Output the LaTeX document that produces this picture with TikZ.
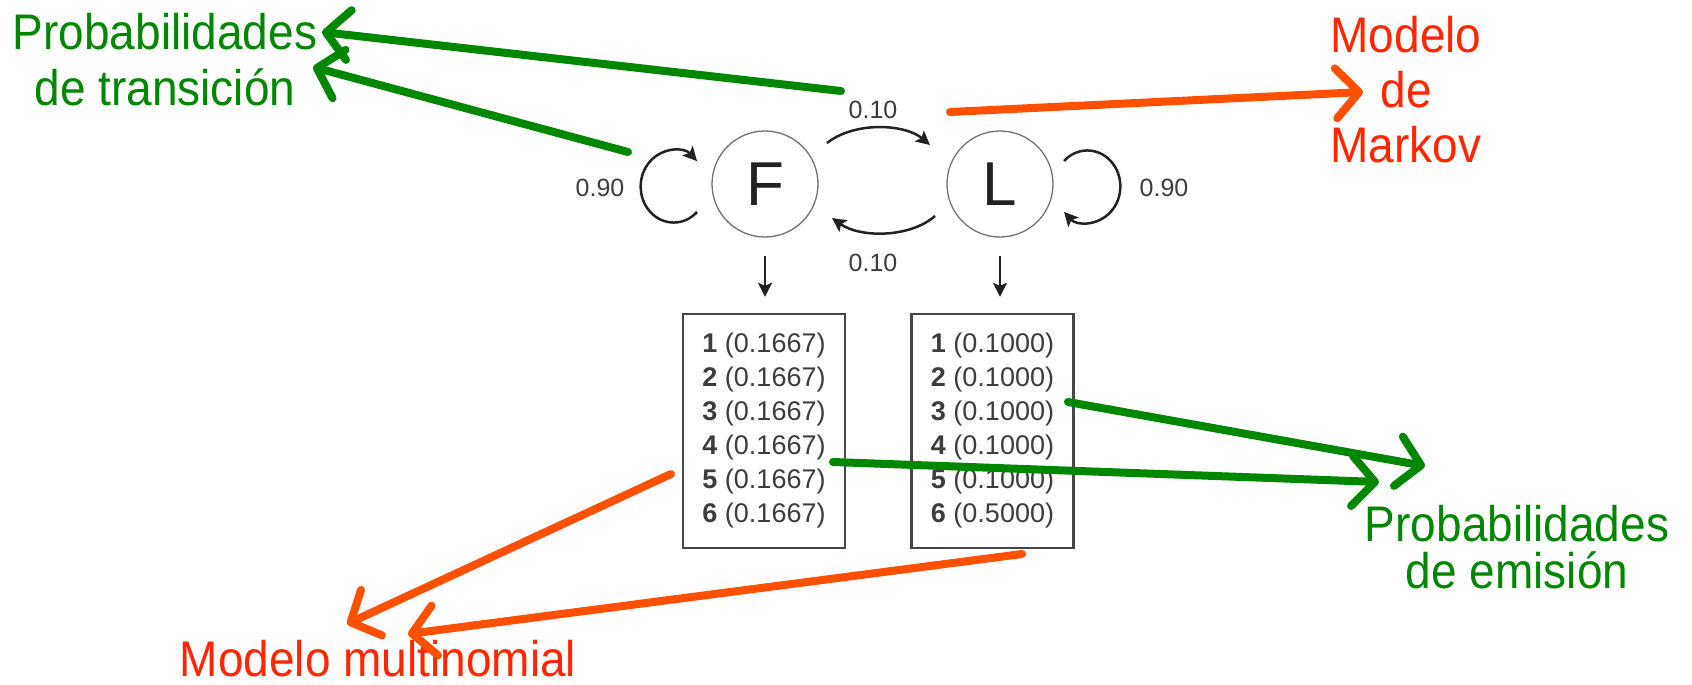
\documentclass[tikz,border=0pt]{standalone}
\usepackage{fontspec}
\setmainfont{Liberation Sans}
\newfontfamily\notefont[FakeStretch=0.92]{Liberation Sans}
\usetikzlibrary{arrows.meta,calc}

\definecolor{noteGreen}{RGB}{0,135,0}
\definecolor{noteOrange}{RGB}{255,80,0}
\definecolor{noteRed}{RGB}{255,38,0}
\definecolor{ink}{RGB}{34,34,34}
\definecolor{numInk}{RGB}{60,60,60}

\begin{document}
\begin{tikzpicture}[x=1pt,y=1pt,
  state/.style={circle, draw=black!55, line width=1.3pt, minimum size=106pt, inner sep=0pt,
                font=\fontsize{62}{62}\selectfont, text=ink},
  emitbox/.style={draw=black!72, line width=2.4pt, minimum width=162pt, minimum height=234pt,
                  inner sep=0pt, align=left, font=\fontsize{27}{34}\selectfont, text=numInk},
  prob/.style={font=\fontsize{25}{25}\selectfont, text=numInk},
  trans/.style={draw=ink, line width=2.5pt, -{Stealth[length=14pt,width=14pt,inset=3pt]}},
  callout/.style={line width=8pt, line cap=round, -{Straight Barb[length=23pt,width=50pt,round]}},
  note/.style={align=center}
]
\useasboundingbox (0,0) rectangle (1692,-685);
\fill[white] (0,0) rectangle (1692,-685);

% hidden states
\node[state] (F) at (765,-184) {F};
\node[state] (L) at (1000,-184) {L};

% emission tables
\node[emitbox] (EF) at (764,-431) {%
  \textbf{1} (0.1667)\\ \textbf{2} (0.1667)\\ \textbf{3} (0.1667)\\
  \textbf{4} (0.1667)\\ \textbf{5} (0.1667)\\ \textbf{6} (0.1667)};
\node[emitbox] (EL) at (992.5,-431) {%
  \textbf{1} (0.1000)\\ \textbf{2} (0.1000)\\ \textbf{3} (0.1000)\\
  \textbf{4} (0.1000)\\ \textbf{5} (0.1000)\\ \textbf{6} (0.5000)};

\draw[trans, shorten <=18pt, shorten >=16pt] (F.south) -- (F.south |- EF.north);
\draw[trans, shorten <=18pt, shorten >=16pt] (L.south) -- (L.south |- EL.north);

% self transitions
\coordinate (FloopS) at ($(F)+(-68,-28)$);
\coordinate (LloopS) at ($(L)+(64,23)$);
\draw[trans] (FloopS) arc[start angle=-45, end angle=-315, x radius=33, y radius=36];
\draw[trans] (LloopS) arc[start angle=135, end angle=-135, x radius=33, y radius=36];

% transitions between states
\coordinate (FLs) at ($(F)+(62,41)$);
\coordinate (FLe) at ($(L)+(-70,39)$);
\coordinate (LFs) at ($(L)+(-65,-32)$);
\coordinate (LFe) at ($(F)+(67,-34)$);
\draw[trans] (FLs) .. controls ($(FLs)+(28,22)$) and ($(FLe)+(-25,21)$) .. (FLe);
\draw[trans] (LFs) .. controls ($(LFs)+(-25,-22)$) and ($(LFe)+(28,-20)$) .. (LFe);

% transition probabilities
\node[prob] (pFF) at (600,-188) {0.90};
\node[prob] (pLL) at (1164,-188) {0.90};
\node[prob] (pFL) at (873,-110) {0.10};
\node[prob] (pLF) at (873,-263) {0.10};

% annotations
\node[note, text=noteGreen, font=\notefont\fontsize{50}{56}\selectfont] (transLbl) at (165,-60)
  {Probabilidades\\de transición};
\node[note, text=noteRed, font=\notefont\fontsize{50}{55}\selectfont] (markovLbl) at (1406,-90)
  {Modelo\\de\\Markov};
\node[note, text=noteGreen, font=\notefont\fontsize{50}{47}\selectfont] (emitLbl) at (1517,-547)
  {Probabilidades\\de emisión};
\node[note, text=noteRed, font=\notefont\fontsize{50}{56}\selectfont] (multiLbl) at (378,-659)
  {Modelo multinomial};

% callout arrow end points
\coordinate (ctA) at (841,-91);   \coordinate (ctAtip) at (322,-32);
\coordinate (ctB) at (628,-152);  \coordinate (ctBtip) at (313,-67);
\coordinate (cmA) at (950,-112);  \coordinate (cmAtip) at (1363,-92);
\coordinate (ceA) at (1068,-402); \coordinate (ceAtip) at (1425,-466);
\coordinate (ceB) at (833,-462);  \coordinate (ceBtip) at (1379,-482);
\coordinate (cnA) at (671,-474);  \coordinate (cnAtip) at (347,-624);
\coordinate (cnB) at (1022,-554); \coordinate (cnBtip) at (408,-634);

\draw[callout, noteGreen] (ctA) -- (ctAtip);
\draw[callout, noteGreen] (ctB) -- (ctBtip);
\draw[callout, noteOrange] (cmA) -- (cmAtip);
\draw[callout, noteGreen] (ceA) -- (ceAtip);
\draw[callout, noteGreen] (ceB) -- (ceBtip);
\draw[callout, noteOrange] (cnA) -- (cnAtip);
\draw[callout, noteOrange] (cnB) -- (cnBtip);
\end{tikzpicture}
\end{document}
